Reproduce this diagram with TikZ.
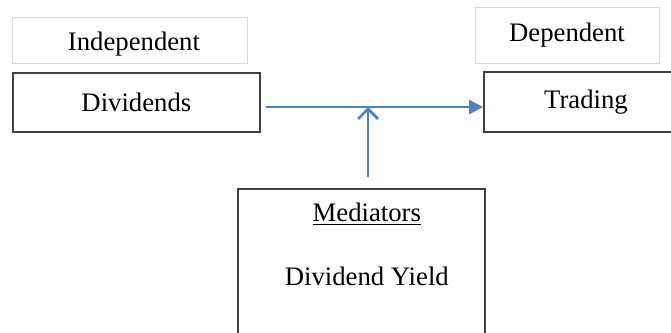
\documentclass[tikz,border=0pt]{standalone}
\usepackage{fontspec}
\setmainfont{Liberation Serif}
\usetikzlibrary{arrows.meta}

\definecolor{linkblue}{RGB}{79,129,189}
\definecolor{boxgray}{RGB}{64,64,64}
\definecolor{tagGray}{RGB}{215,215,215}

\begin{document}
\begin{tikzpicture}[
		font=\fontsize{19}{23}\selectfont,
		varbox/.style={draw=boxgray, line width=1.3pt, inner sep=0pt},
		tagbox/.style={draw=tagGray, line width=0.6pt, inner sep=0pt},
		link/.style={linkblue, line width=2pt}
	]
	\useasboundingbox (0,0) rectangle (16.775,8.3);
	
	% Headings
	\node[tagbox, minimum width=5.875cm, minimum height=1.15cm] (indep) at (3.26,7.3) {};
	\node (indeptext) at (3.35,7.2) {Independent};
	\node[tagbox, minimum width=4.6cm, minimum height=1.4cm] (dep) at (14.175,7.425) {Dependent};
	
	% Variables
	\node[varbox, minimum width=6.175cm, minimum height=1.475cm] (div) at (3.41,5.7375) {Dividends};
	\node[varbox, minimum width=5.1cm, minimum height=1.5cm] (trade) at (14.65,5.74) {Trading};
	
	% Mediator box, cut at the bottom
	\node[varbox, minimum width=6.175cm, minimum height=4.3cm] (med) at (9.04,1.425) {};
	\node (medtitle) at (9.17,2.95) {\underline{Mediators}};
	\node (medvar) at (9.17,1.4) {Dividend Yield};
	
	% Arrows
	\coordinate (join) at (9.2,5.625);
	\draw[link, -{Triangle[length=0.35cm, width=0.35cm]}, shorten <=0.125cm] (div.east |- join) -- (trade.west |- join);
	\draw[link, -{Straight Barb[length=0.25cm, width=0.5cm]}, shorten <=0.275cm] (join |- med.north) -- (join);
\end{tikzpicture}
\end{document}
